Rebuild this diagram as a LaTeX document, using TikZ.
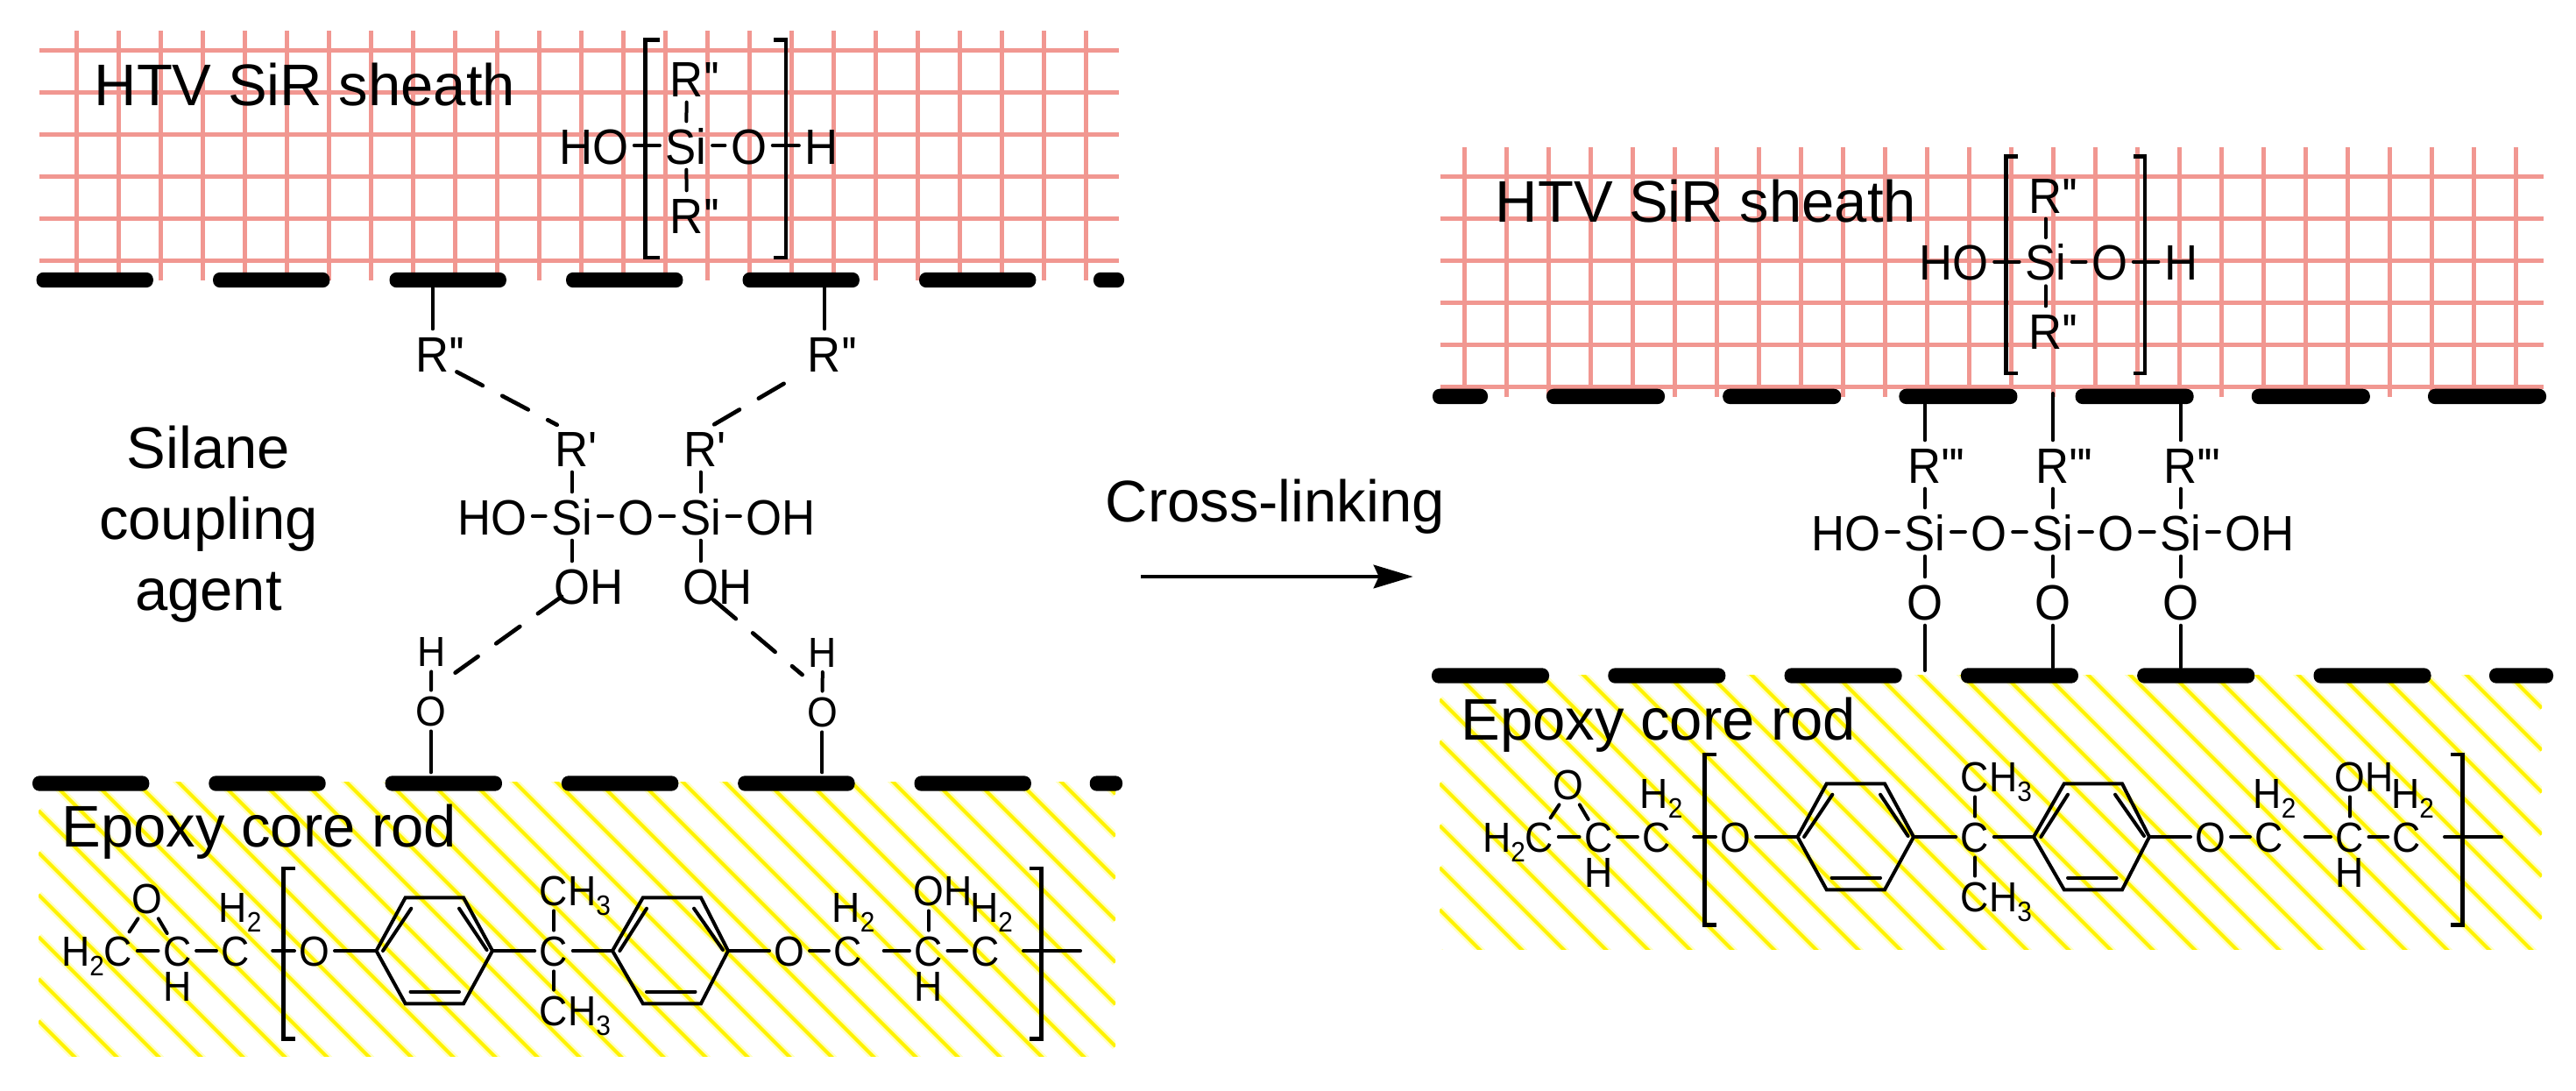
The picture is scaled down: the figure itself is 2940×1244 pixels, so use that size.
\documentclass[tikz,border=0pt]{standalone}
\usepackage{fontspec}
\usetikzlibrary{arrows.meta}
\newfontfamily\arialf{Liberation Sans}
\newfontfamily\chemf[FakeStretch=0.93]{Liberation Sans}
\definecolor{gridpink}{HTML}{F19791}
\definecolor{palehatch}{HTML}{FFFFC4}
\newcommand{\pr}{\char39 \kern-0.6pt}
\newcommand{\subd}{\raisebox{-3.2pt}{\fontsize{9.6}{10}\selectfont 2}}
\newcommand{\subt}{\raisebox{-3.2pt}{\fontsize{9.6}{10}\selectfont 3}}
\tikzset{
  gridline/.style={gridpink,line width=1.5pt},
  hatchpale/.style={palehatch,line width=2.7pt},
  hatchcore/.style={yellow,line width=1.25pt},
  barbox/.style={rectangle,fill=black,rounded corners=2.4pt,inner sep=0pt,minimum height=5.2pt},
  bond/.style={line width=1.2pt,line cap=round},
  bracket/.style={line width=1.4pt,miter limit=10},
  dashbond/.style={line width=1.4pt,line cap=round,dash pattern=on 10pt off 7.6pt},
  bigtext/.style={inner sep=0pt,font=\arialf\fontsize{20.1}{24.3}\selectfont},
  atom/.style={inner sep=1.8pt,text height=12.6pt,text depth=0pt,font=\chemf\fontsize{17}{19}\selectfont},
  smallatom/.style={inner sep=1.5pt,text height=10.65pt,text depth=0pt,font=\chemf\fontsize{14.4}{16}\selectfont},
}
\newcommand{\epoxymol}{%
  \node[smallatom] (c1) at (135,1085) {\llap{H\subd}C};
  \node[smallatom] (c2) at (202.3,1085) {C};
  \node[smallatom] (c3) at (268.7,1085) {C};
  \node[smallatom] (ot) at (167.5,1025) {O};
  \node[smallatom] (hb1) at (202.3,1125) {H};
  \node[smallatom] (h2a) at (274,1035) {H\subd};
  \node[smallatom] (o1) at (359,1085) {O};
  \node[smallatom] (cq) at (632,1085) {C};
  \node[smallatom] (me1) at (632,1016) {C\rlap{H\subt}};
  \node[smallatom] (me2) at (632,1153) {C\rlap{H\subt}};
  \node[smallatom] (o2) at (901,1085) {O};
  \node[smallatom] (c4) at (967.7,1085) {C};
  \node[smallatom] (h2b) at (974,1035) {H\subd};
  \node[smallatom] (c5) at (1059.7,1085) {C};
  \node[smallatom] (oh) at (1059.7,1016) {O\rlap{H}};
  \node[smallatom] (hb2) at (1059.7,1125) {H};
  \node[smallatom] (c6) at (1125,1085) {C};
  \node[smallatom] (h2c) at (1131.5,1035) {H\subd};
  \coordinate (al) at (429.5,1085); \coordinate (atl) at (462.7,1024.3);
  \coordinate (atr) at (529,1024.3); \coordinate (ar) at (562,1085);
  \coordinate (abr) at (529,1145.3); \coordinate (abl) at (462.7,1145.3);
  \coordinate (bl) at (699,1085); \coordinate (btl) at (733.8,1024.3);
  \coordinate (btr) at (800,1024.3); \coordinate (br) at (831,1085);
  \coordinate (bbr) at (800,1145.3); \coordinate (bbl) at (733.8,1145.3);
  \draw[bond,line join=miter] (al) -- (atl) -- (atr) -- (ar) -- (abr) -- (abl) -- cycle;
  \draw[bond,line join=miter] (bl) -- (btl) -- (btr) -- (br) -- (bbr) -- (bbl) -- cycle;
  \draw[bond] (437,1085) -- (469.3,1036.7);
  \draw[bond] (524,1036.7) -- (555.6,1084);
  \draw[bond] (468.5,1131.7) -- (524,1131.7);
  \draw[bond] (707.3,1085) -- (738,1036.7);
  \draw[bond] (792,1036.7) -- (825,1084);
  \draw[bond] (738,1131.7) -- (793.5,1131.7);
  \draw[bond] (c1) -- (c2);
  \draw[bond] (c2) -- (c3);
  \draw[bond] ([shift={(12.6,-21.7)}]c1.center) -- ([shift={(-10,23.3)}]ot.center);
  \draw[bond] ([shift={(-11.6,-20)}]c2.center) -- ([shift={(13.3,23.3)}]ot.center);
  \draw[bond] ([shift={(42.5,0)}]c3.center) -- (o1);
  \draw[bond] (o1) -- (al);
  \draw[bond] (ar) -- (cq);
  \draw[bond] (cq) -- (bl);
  \draw[bond] (br) -- (o2);
  \draw[bond] (o2) -- (c4);
  \draw[bond] (cq) -- (me1);
  \draw[bond] (cq) -- (me2);
  \draw[bond] ([shift={(41,0)}]c4.center) -- (c5);
  \draw[bond] (c5) -- (oh);
  \draw[bond] (c5) -- (c6);
  \draw[bond] ([shift={(43,0)}]c6.center) -- ([shift={(108,0)}]c6.center);
  \draw[bracket] (337,991) -- (323.4,991) -- (323.4,1185.3) -- (337,1185.3);
  \draw[bracket] (1175,991) -- (1188.3,991) -- (1188.3,1185.3) -- (1175,1185.3);
}
\begin{document}
\begin{tikzpicture}[x=0.3pt,y=-0.3pt]
\path[fill=white,use as bounding box] (0,0) rectangle (2940,1244);
% grids
\foreach \k in {0,...,5} \draw[gridline] (45,{57.5+48*\k}) -- (1276.7,{57.5+48*\k});
\foreach \k in {0,...,24} \draw[gridline] ({87.4+48*\k},35) -- ({87.4+48*\k},320);
\foreach \k in {0,...,5} \draw[gridline] (1643.6,{201.5+48*\k}) -- (2902.6,{201.5+48*\k});
\foreach \k in {0,...,25} \draw[gridline] ({1671+48*\k},168) -- ({1671+48*\k},452.7);
% hatching
\begin{scope}
  \clip (44,892) rectangle (1273,1205);
  \foreach \k in {-8,...,24} \draw[hatchpale] (44,{44+17+48*\k}) -- (1273,{1273+17+48*\k});
  \foreach \k in {-8,...,24} \draw[hatchcore] (44,{44+17+48*\k}) -- (1273,{1273+17+48*\k});
\end{scope}
\begin{scope}
  \clip (1643,770) rectangle (2901,1083.3);
  \foreach \k in {-45,...,-12} \draw[hatchpale] (1643,{1643+19+48*\k}) -- (2901,{2901+19+48*\k});
  \foreach \k in {-45,...,-12} \draw[hatchcore] (1643,{1643+19+48*\k}) -- (2901,{2901+19+48*\k});
\end{scope}
% interface bars
\foreach \n in {0,...,5} \node[barbox,minimum width=40pt] (tl\n) at ({108.2+201.5*\n},319.5) {};
\node[barbox,minimum width=10.5pt] (tl6) at (1265.5,319.5) {};
\foreach \n in {0,...,5} \node[barbox,minimum width=40pt] (bl\n) at ({103.7+201.3*\n},894) {};
\node[barbox,minimum width=11.2pt] (bl6) at (1262.4,894) {};
\node[barbox,minimum width=18.9pt] (tr0) at (1666.5,452.4) {};
\foreach \n in {1,...,6} \node[barbox,minimum width=40.5pt] (tr\n) at ({1832.5+201.2*(\n-1)},452.4) {};
\foreach \n in {0,...,5} \node[barbox,minimum width=40.2pt] (br\n) at ({1701+201.3*\n},771) {};
\node[barbox,minimum width=21.9pt] (br6) at (2877.5,771) {};
% titles
\node[bigtext,anchor=base west] (sirL) at (107,120) {HTV SiR sheath};
\node[bigtext,anchor=base west] (sirR) at (1706,253) {HTV SiR sheath};
\node[bigtext,anchor=base west] (epL) at (70,966) {Epoxy core rod};
\node[bigtext,anchor=base west] (epR) at (1667,844) {Epoxy core rod};
\node[bigtext,anchor=north,align=center] (silane) at (238,485) {Silane\\coupling\\agent};
\node[bigtext,anchor=base west] (xlink) at (1261,595) {Cross-linking};
\coordinate (arrA) at (1302.3,658); \coordinate (arrB) at (1612.7,658);
\draw[line width=1.2pt,-{Stealth[length=13.5pt,width=8pt,inset=1.8pt]}] (arrA) -- (arrB);
% left repeat unit
\node[atom] (luSi) at (783,166) {Si};
\node[atom] (luHO) at (677.6,166) {HO};
\node[atom] (luO) at (854.6,166) {O};
\node[atom] (luH) at (937.5,166) {H};
\node[atom] (luR1) at (784,89) {R\rlap{\pr\pr}};
\node[atom] (luR2) at (784,245) {R\rlap{\pr\pr}};
\draw[bond] (luHO) -- (luSi);
\draw[bond] (luSi) -- (luO);
\draw[bond] (luO) -- (luH);
\draw[bond] (luR1) -- (luSi);
\draw[bond] (luSi) -- (luR2);
\draw[bracket] (752.6,45.7) -- (736.6,45.7) -- (736.6,294) -- (752.6,294);
\draw[bracket] (883,45.7) -- (897,45.7) -- (897,294) -- (883,294);
% right repeat unit
\node[atom] (ruSi) at (2334.6,298.7) {Si};
\node[atom] (ruHO) at (2230,298.7) {HO};
\node[atom] (ruO) at (2407.7,298.7) {O};
\node[atom] (ruH) at (2489,298.7) {H};
\node[atom] (ruR1) at (2334.6,222) {R\rlap{\pr\pr}};
\node[atom] (ruR2) at (2334.6,377) {R\rlap{\pr\pr}};
\draw[bond] (ruHO) -- (ruSi);
\draw[bond] (ruSi) -- (ruO);
\draw[bond] (ruO) -- (ruH);
\draw[bond] (ruR1) -- (ruSi);
\draw[bond] (ruSi) -- (ruR2);
\draw[bracket] (2303.4,178.7) -- (2289.7,178.7) -- (2289.7,426) -- (2303.4,426);
\draw[bracket] (2435,178.7) -- (2447.9,178.7) -- (2447.9,426) -- (2435,426);
% silane coupling agent (before)
\node[atom] (si1) at (652.7,589) {Si};
\node[atom] (si2) at (799.5,589) {Si};
\node[atom] (ho1) at (561.6,589) {HO};
\node[atom] (osi) at (726,589) {O};
\node[atom] (ho2) at (891,589) {OH};
\node[atom] (rp1) at (652.7,511) {R\rlap{\pr}};
\node[atom] (rp2) at (799.5,511) {R\rlap{\pr}};
\node[atom] (oh1) at (652.7,668) {O\rlap{H}};
\node[atom] (oh2) at (799.5,668) {O\rlap{H}};
\node[atom] (rpp1) at (493.7,403) {R\rlap{\pr\pr}};
\node[atom] (rpp2) at (941,403) {R\rlap{\pr\pr}};
\node[smallatom] (h1) at (492.4,743) {H};
\node[smallatom] (ob1) at (491.8,811) {O};
\node[smallatom] (h2) at (939,743.5) {H};
\node[smallatom] (ob2) at (938.4,812) {O};
\draw[bond] (ho1) -- (si1);
\draw[bond] (si1) -- (osi);
\draw[bond] (osi) -- (si2);
\draw[bond] (si2) -- (ho2);
\draw[bond] (rp1) -- (si1);
\draw[bond] (rp2) -- (si2);
\draw[bond] (si1) -- (oh1);
\draw[bond] (si2) -- (oh2);
\draw[bond] (tl2.south -| rpp1.center) -- (rpp1);
\draw[bond] (tl4.south -| rpp2.center) -- (rpp2);
\draw[bond] (h1) -- (ob1);
\draw[bond] (h2) -- (ob2);
\draw[bond,shorten >=1pt] (ob1) -- (ob1 |- bl2.north);
\draw[bond,shorten >=1pt] (ob2) -- (ob2 |- bl4.north);
\draw[dashbond] ([shift={(27.7,21.4)}]rpp1.center) -- ([shift={(-17,-26.2)}]rp1.center);
\draw[dashbond] ([shift={(-46.4,34.8)}]rpp2.center) -- ([shift={(14.8,-26.2)}]rp2.center);
\draw[dashbond] ([shift={(-11.7,12.8)}]oh1.center) -- ([shift={(27.2,24.7)}]h1.center);
\draw[dashbond] ([shift={(14.8,16.6)}]oh2.center) -- ([shift={(-23.4,26.5)}]h2.center);
% cross-linked agent (after)
\node[atom] (x1) at (2196.9,607) {Si};
\node[atom] (x2) at (2342.9,607) {Si};
\node[atom] (x3) at (2488.8,607) {Si};
\node[atom] (xho) at (2107,607) {HO};
\node[atom] (xo1) at (2270,607) {O};
\node[atom] (xo2) at (2415,607) {O};
\node[atom] (xoh) at (2579,607) {OH};
\node[atom] (xr1) at (2196.9,530) {R\rlap{\pr\pr\pr}};
\node[atom] (xr2) at (2342.9,530) {R\rlap{\pr\pr\pr}};
\node[atom] (xr3) at (2488.8,530) {R\rlap{\pr\pr\pr}};
\node[atom] (xb1) at (2196.9,686) {O};
\node[atom] (xb2) at (2342.9,686) {O};
\node[atom] (xb3) at (2488.8,686) {O};
\coordinate (xfreeT) at (2342.9,449);
\coordinate (xfreeB) at (2196.9,765);
\draw[bond] (xho) -- (x1);
\draw[bond] (x1) -- (xo1);
\draw[bond] (xo1) -- (x2);
\draw[bond] (x2) -- (xo2);
\draw[bond] (xo2) -- (x3);
\draw[bond] (x3) -- (xoh);
\draw[bond] (tr3.south -| xr1.center) -- (xr1);
\draw[bond] (xfreeT) -- (xr2);
\draw[bond] (tr4.south -| xr3.center) -- (xr3);
\foreach \i in {1,2,3} {
  \draw[bond] (xr\i) -- (x\i);
  \draw[bond] (x\i) -- (xb\i);
}
\draw[bond] (xb1) -- (xfreeB);
\draw[bond] (xb2) -- (xb2 |- br3.north);
\draw[bond] (xb3) -- (xb3 |- br4.north);
% epoxy molecules
\begin{scope}[name prefix=mL-]
  \epoxymol
\end{scope}
\begin{scope}[shift={(1622,-130)},name prefix=mR-]
  \epoxymol
\end{scope}
\end{tikzpicture}
\end{document}
